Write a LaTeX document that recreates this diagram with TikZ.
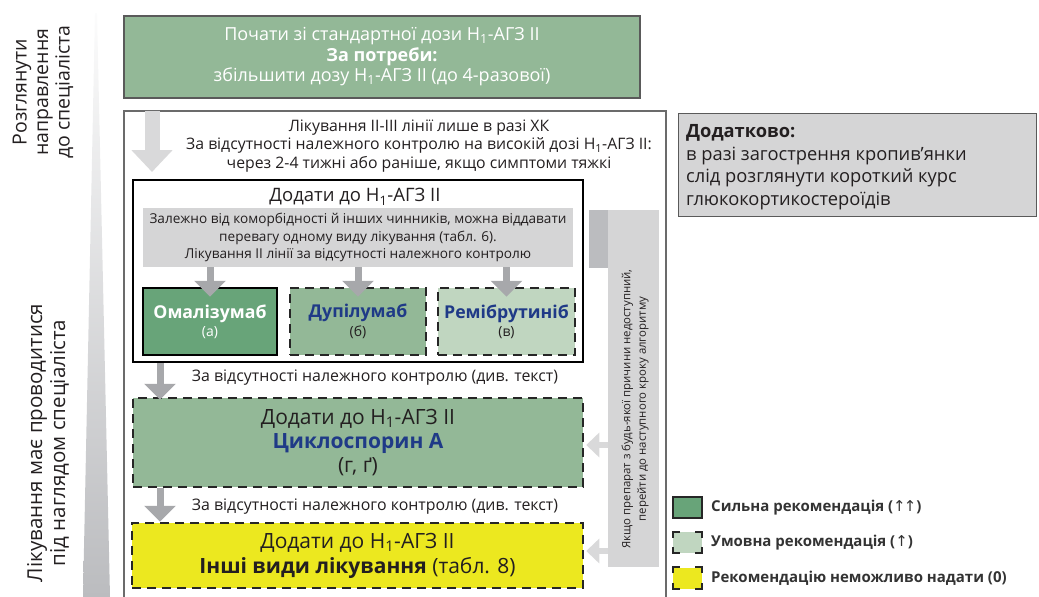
\documentclass[tikz,border=0pt]{standalone}
\usepackage{fontspec}
\setmainfont{Open Sans}
\newfontfamily\symf{DejaVu Sans}
\usetikzlibrary{arrows.meta}
\definecolor{gmid}{HTML}{93B897}
\definecolor{gdark}{HTML}{68A479}
\definecolor{glight}{HTML}{C0D6C0}
\definecolor{ylw}{HTML}{ECE81F}
\definecolor{navy}{HTML}{1F3A87}
\definecolor{txt}{HTML}{231F20}
\definecolor{lgray}{HTML}{D5D5D6}
\definecolor{mgray}{HTML}{BBBCBF}
\definecolor{agray}{HTML}{A7A8AB}
\definecolor{bgray}{HTML}{D9D9DA}
\definecolor{edge}{HTML}{5A5A5A}
\tikzset{
  fs/.style n args={2}{font=\fontsize{#1}{#2}\selectfont},
  box/.style={inner sep=0pt, anchor=center, align=center, text=txt},
  solidbox/.style={box, draw=black, line width=2.5pt},
  dashbox/.style={box, draw=black!85, line width=2.5pt, dash pattern=on 9pt off 6pt},
  garrow/.style={draw=agray, line width=7pt, -{Triangle[length=16pt,width=31pt]}},
  larrow/.style={draw=bgray, line width=6pt, -{Triangle[length=13pt,width=24pt]}},
  corner/.style={draw=black!85, line width=2pt},
  legtext/.style={box, anchor=west, text=black!80, font=\fontsize{15}{17}\selectfont\bfseries},
}
\begin{document}
\begin{tikzpicture}[x=1pt,y=-1pt]
\useasboundingbox (0,0) rectangle (1039,597);
% side wedge
\shade[top color=white!95!mgray, bottom color=mgray] (95,13) -- (97,13) -- (110,597) -- (83,597) -- cycle;
% left texts
\node[box, rotate=90, fs={19.5}{21.5}] (lt1) at (43,92) {Розглянути\\направлення\\до спеціаліста};
\node[box, rotate=90, fs={20.5}{23}] (lt2) at (48,443) {Лікування має проводитися\\під наглядом спеціаліста};
% top box
\node[box, draw=edge, line width=2.5pt, fill=gmid, minimum width=516pt, minimum height=82pt, text=white, fs={18}{20.5}] (top) at (382,57)
  {Почати зі стандартної дози H\textsubscript{1}-АГЗ II\\\textbf{За потреби:}\\збільшити дозу H\textsubscript{1}-АГЗ II (до 4-разової)};
% outer box
\node[box, draw=edge!90, line width=2pt, minimum width=542pt, minimum height=520pt] (outer) at (395,371) {};
% big top arrow
\coordinate (ba) at (152,111);
\draw[draw=bgray, line width=15pt, -{Triangle[length=22pt,width=40pt]}] (ba) -- ++(0,61);
\node[box, fs={15.8}{18.8}] (t2) at (419,146) {Лікування II-III лінії лише в разі ХК\\За відсутності належного контролю на високій дозі H\textsubscript{1}-АГЗ II:\\через 2-4 тижні або раніше, якщо симптоми тяжкі};
% right bar
\fill[mgray] (589,210) rectangle (608,268);
\node[box, fill=lgray, minimum width=51pt, minimum height=357pt] (bar) at (633.5,388.5) {};
\node[box, rotate=90, fs={11.4}{15.5}] (bart) at (635,409) {Якщо препарат з будь-якої причини недоступний,\\перейти до наступного кроку алгоритму};
% inner box
\node[solidbox, line width=2pt, minimum width=450pt, minimum height=182pt] (inner) at (358,271) {};
\node[box, fs={18.5}{20}] (innert) at (355,197) {Додати до H\textsubscript{1}-АГЗ II};
\node[box, fill=lgray, minimum width=430pt, minimum height=59pt, fs={13.6}{17.5}] (gbox) at (358,237.5)
  {Залежно від коморбідності й інших чинників, можна віддавати\\перевагу одному виду лікування (табл. 6).\\Лікування II лінії за відсутності належного контролю};
\node[solidbox, fill=gdark, minimum width=134pt, minimum height=67pt, text=white] (oma) at (210,321.5)
  {{\fontsize{17.7}{20}\selectfont\bfseries Омалізумаб}\\[3pt]{\fontsize{14}{16}\selectfont (а)}};
\node[dashbox, fill=gmid, minimum width=136pt, minimum height=67pt] (dupi) at (358,321.5)
  {{\fontsize{17.7}{20}\selectfont\bfseries\color{navy}Дупілумаб}\\[3pt]{\fontsize{14}{16}\selectfont (б)}};
\node[dashbox, fill=glight, minimum width=137pt, minimum height=67pt] (remi) at (506.5,321.5)
  {{\fontsize{17.7}{20}\selectfont\bfseries\color{navy}Ремібрутиніб}\\[3pt]{\fontsize{14}{16}\selectfont (в)}};
\foreach \b in {oma,dupi,remi}
  \draw[garrow] (\b.north |- gbox.south) -- ([yshift=-10pt]\b.north);
% cyclosporin
\node[dashbox, fill=gmid, minimum width=450pt, minimum height=89pt, fs={21}{24}] (cyclo) at (358,442.5)
  {Додати до H\textsubscript{1}-АГЗ II\\\textcolor{navy}{\bfseries Циклоспорин А}\\(г, ґ)};
\node[box, fs={15.9}{18}] (l1) at (375,378) {За відсутності належного контролю (див. текст)};
\node[dashbox, fill=ylw, minimum width=451pt, minimum height=65pt, fs={21}{25}] (other) at (357.5,555.5)
  {Додати до H\textsubscript{1}-АГЗ II\\\textbf{Інші види лікування} (табл. 8)};
\node[box, fs={15.9}{18}] (l2) at (375,507) {За відсутності належного контролю (див. текст)};
\coordinate (ax) at (160,0);
\draw[garrow] (inner.south -| ax) -- ([yshift=-3pt]cyclo.north -| ax);
\draw[garrow] (cyclo.south -| ax) -- (other.north -| ax);
% left arrows from bar
\coordinate (r1) at (0,445);
\coordinate (r2) at (0,551);
\draw[larrow] (bar.west |- r1) -- ([xshift=2pt]cyclo.east |- r1);
\draw[larrow] (bar.west |- r2) -- ([xshift=2pt]other.east |- r2);
% additional box
\node[box, draw=edge, line width=1pt, fill=lgray, minimum width=358pt, minimum height=103pt] (add) at (857,164.5) {};
\node[box, anchor=west, align=left, fs={18.3}{22.5}] (addt) at (686,167)
  {\textbf{Додатково:}\\в разі загострення кропив’янки\\слід розглянути короткий курс\\глюкокортикостероїдів};
% legend
\node[box, draw=black!85, line width=2pt, fill=gdark, minimum width=29pt, minimum height=21pt] (lg1) at (687.5,507.5) {};
\node[box, fill=glight, minimum width=29pt, minimum height=21pt] (lg2) at (687.5,542.5) {};
\node[box, fill=ylw, minimum width=29pt, minimum height=21pt] (lg3) at (687.5,578) {};
\foreach \b in {lg2,lg3}{
  \draw[corner] ([yshift=-6pt]\b.north west) -- (\b.north west) -- ([xshift=7pt]\b.north west);
  \draw[corner] ([xshift=-7pt]\b.north east) -- (\b.north east) -- ([yshift=-6pt]\b.north east);
  \draw[corner] ([yshift=6pt]\b.south west) -- (\b.south west) -- ([xshift=7pt]\b.south west);
  \draw[corner] ([xshift=-7pt]\b.south east) -- (\b.south east) -- ([yshift=6pt]\b.south east);
}
\node[legtext] (lt1x) at (711,508) {Сильна рекомендація ({\symf\mdseries ↑\kern-2pt↑})};
\node[legtext] (lt2x) at (711,543) {Умовна рекомендація ({\symf\mdseries ↑})};
\node[legtext] (lt3x) at (711,578) {Рекомендацію неможливо надати (0)};
\end{tikzpicture}
\end{document}
